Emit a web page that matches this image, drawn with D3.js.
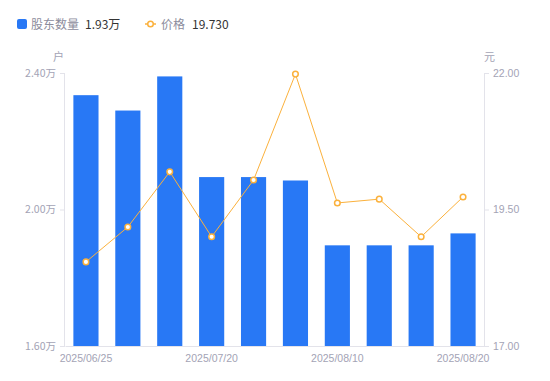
<!DOCTYPE html>
<html>
<head>
<meta charset="utf-8">
<script src="https://cdn.jsdelivr.net/npm/d3@7"></script>
<style>
  body { margin: 0; background: #fff; }
  svg { display: block; font-family: "Noto Sans CJK SC", "Noto Sans", sans-serif; }
</style>
</head>
<body>
<svg id="chart" width="550" height="381"></svg>
<script>
'use strict'

const dates = ['2025/06/25', '2025/06/30', '2025/07/10', '2025/07/20', '2025/07/31',
  '2025/08/05', '2025/08/10', '2025/08/13', '2025/08/15', '2025/08/20']
const holders = [2.335, 2.29, 2.39, 2.095, 2.095, 2.085, 1.895, 1.895, 1.895, 1.93]
const prices = [18.54, 19.18, 20.19, 19.00, 20.04, 21.98, 19.62, 19.69, 19.00, 19.73]
const holderTicks = [1.6, 2.0, 2.4]
const priceTicks = [17, 19.5, 22]
const shownDates = ['2025/06/25', '2025/07/20', '2025/08/10', '2025/08/20']

const barColor = '#2878f5'
const lineColor = '#fbb13c'
const labelColor = '#a3a3b5'
const axisColor = '#e3e3ea'

const svg = d3.select('#chart')
const margin = { left: 65, right: 66, top: 73, bottom: 35 }
const width = 550 - margin.left - margin.right
const height = 381 - margin.top - margin.bottom

const x = d3.scaleBand().domain(dates).range([margin.left, margin.left + width]).paddingInner(0.4).paddingOuter(0.2)
const yLeft = d3.scaleLinear().domain([1.6, 2.4]).range([margin.top + height, margin.top])
const yRight = d3.scaleLinear().domain([17, 22]).range([margin.top + height, margin.top])

// legend
const legend = svg.append('g').attr('font-size', 12)
legend.append('rect').attr('x', 17).attr('y', 19).attr('width', 10).attr('height', 10)
  .attr('rx', 2).attr('fill', barColor)
legend.append('text').attr('x', 31).attr('y', 29).attr('fill', '#8c8c9c').text('股东数量')
legend.append('text').attr('x', 85).attr('y', 29).attr('fill', '#333').text('1.93万')
legend.append('line').attr('x1', 145).attr('x2', 156).attr('y1', 24).attr('y2', 24)
  .attr('stroke', lineColor).attr('stroke-width', 1.5)
legend.append('circle').attr('cx', 150.5).attr('cy', 24).attr('r', 2.8)
  .attr('fill', '#fff').attr('stroke', lineColor).attr('stroke-width', 1.5)
legend.append('text').attr('x', 161).attr('y', 29).attr('fill', '#8c8c9c').text('价格')
legend.append('text').attr('x', 192).attr('y', 29).attr('fill', '#333').text('19.730')

// unit labels
svg.append('text').attr('x', 53).attr('y', 61).attr('font-size', 11).attr('fill', labelColor).text('户')
svg.append('text').attr('x', 484).attr('y', 61).attr('font-size', 11).attr('fill', labelColor).text('元')

// axes
const leftAxis = svg.append('g').attr('transform', `translate(${margin.left},0)`)
  .call(d3.axisLeft(yLeft).tickValues(holderTicks).tickSize(5).tickPadding(4)
    .tickFormat(d => d.toFixed(2) + '万'))
const rightAxis = svg.append('g').attr('transform', `translate(${margin.left + width},0)`)
  .call(d3.axisRight(yRight).tickValues(priceTicks).tickSize(5).tickPadding(4)
    .tickFormat(d => d.toFixed(2)))
const bottomAxis = svg.append('g').attr('transform', `translate(0,${margin.top + height})`)
  .call(d3.axisBottom(x).tickValues(shownDates).tickSize(0).tickPadding(9))

for (const ax of [leftAxis, rightAxis, bottomAxis]) {
  ax.select('.domain').attr('stroke', axisColor)
  ax.selectAll('.tick line').attr('stroke', axisColor)
  ax.selectAll('.tick text').attr('fill', labelColor).attr('font-size', 10.5)
    .attr('font-family', '"Liberation Sans", Arial, sans-serif')
}
leftAxis.selectAll('.tick text').attr('font-family', '"Noto Sans CJK SC", sans-serif')
leftAxis.select('.domain').attr('d', `M-0.5,${margin.top}V${margin.top + height}`)
rightAxis.select('.domain').attr('d', `M0.5,${margin.top}V${margin.top + height}`)

// bars
svg.append('g').selectAll('rect').data(dates).join('rect')
  .attr('x', d => x(d))
  .attr('width', x.bandwidth())
  .attr('y', (d, i) => yLeft(holders[i]))
  .attr('height', (d, i) => yLeft(1.6) - yLeft(holders[i]))
  .attr('fill', barColor)

// price line
const line = d3.line()
  .x((d, i) => x(dates[i]) + x.bandwidth() / 2)
  .y(d => yRight(d))
svg.append('path').datum(prices).attr('d', line)
  .attr('fill', 'none').attr('stroke', lineColor).attr('stroke-width', 1)
svg.append('g').selectAll('circle').data(prices).join('circle')
  .attr('cx', (d, i) => x(dates[i]) + x.bandwidth() / 2)
  .attr('cy', d => yRight(d))
  .attr('r', 2.8)
  .attr('fill', '#fff')
  .attr('stroke', lineColor)
  .attr('stroke-width', 1.5)
</script>
</body>
</html>
